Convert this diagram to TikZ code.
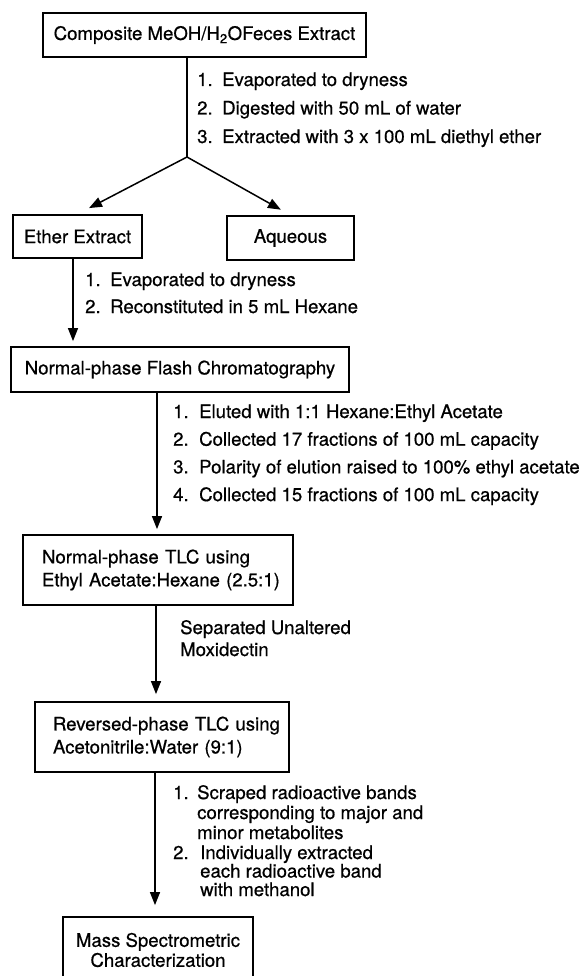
\documentclass[tikz,border=0pt]{standalone}
\usepackage{fontspec}
\setmainfont{TeX Gyre Heros}[FakeBold=0.6]
\usetikzlibrary{arrows.meta}
\newcommand\myfs[1]{\fontsize{18.6}{#1}\selectfont}
\begin{document}
\begin{tikzpicture}[x=1pt,y=-1pt,
  box/.style={draw,line width=1.8pt,rectangle,inner sep=0pt,font=\myfs{23},align=center},
  lbox/.style={box,align=left},
  conn/.style={line width=1.5pt},
  arr/.style={conn,-{Triangle[length=13pt,width=10pt]}},
  lbl/.style={inner sep=0pt,anchor=base west}
]
\useasboundingbox (0,0) rectangle (584,976);
\clip (0,0) rectangle (584,976);
\fill[white] (0,0) rectangle (584,976);

% boxes
\node[box,minimum width=323pt,minimum height=44pt] (comp) at (204.5,35) {Composite MeOH/H\textsubscript{2}OFeces Extract};
\node[box,minimum width=129pt,minimum height=43pt] (ether) at (77.5,236.5) {Ether Extract};
\node[box,minimum width=127pt,minimum height=44pt] (aq) at (290.5,238) {Aqueous};
\node[box,minimum width=338pt,minimum height=45pt] (flash) at (180,369.5) {Normal-phase Flash Chromatography};
\node[lbox,minimum width=270pt,minimum height=70pt,text width=232pt] (tlc) at (158,570) {\mbox{Normal-phase TLC using}\\\mbox{Ethyl Acetate:Hexane (2.5:1)}};
\node[lbox,minimum width=254pt,minimum height=70pt,text width=218pt] (rp) at (162,737) {\mbox{Reversed-phase TLC using}\\\mbox{Acetonitrile:Water (9:1)}};
\node[box,font=\myfs{20},minimum width=190pt,minimum height=66pt] (mass) at (158,950) {Mass Spectrometric\\Characterization};

% step labels
\node[lbl] (s1) at (197,86) {\myfs{28.5}\begin{tabular}[t]{@{}p{25pt}@{}l@{}}1.&Evaporated to dryness\\2.&Digested with 50 mL of water\\3.&Extracted with 3 x 100 mL diethyl ether\end{tabular}};
\node[lbl] (s2) at (85,286) {\myfs{27}\begin{tabular}[t]{@{}p{25pt}@{}l@{}}1.&Evaporated to dryness\\2.&Reconstituted in 5 mL Hexane\end{tabular}};
\node[lbl] (s3) at (173,418) {\myfs{27.7}\begin{tabular}[t]{@{}p{26pt}@{}l@{}}1.&Eluted with 1:1 Hexane:Ethyl Acetate\\2.&Collected 17 fractions of 100 mL capacity\\3.&Polarity of elution raised to 100\% ethyl acetate\\4.&Collected 15 fractions of 100 mL capacity\end{tabular}};
\node[lbl] (s4) at (180,634) {\myfs{22}\begin{tabular}[t]{@{}l@{}}Separated Unaltered\\Moxidectin\end{tabular}};
\node[lbl] (s5a) at (173,799) {\myfs{20}\begin{tabular}[t]{@{}p{24pt}@{}l@{}}1.&Scraped radioactive bands\\&corresponding to major and\\&minor metabolites\end{tabular}};
\node[lbl] (s5b) at (173,859) {\myfs{16.5}\begin{tabular}[t]{@{}p{27pt}@{}l@{}}2.&Individually extracted\\&each radioactive band\\&with methanol\end{tabular}};

% connectors
\coordinate (br) at (187,157);
\coordinate (xa) at (73,0);
\coordinate (xb) at (157,0);
\coordinate (xc) at (156,0);
\coordinate (xd) at (155,0);
\draw[conn] (comp.south -| br) -- (br);
\draw[arr,shorten >=13pt] (br) -- (ether.north);
\draw[arr,shorten >=11pt] (br) -- (aq.north);
\draw[arr,shorten >=5pt] (ether.south -| xa) -- (flash.north -| xa);
\draw[arr,shorten >=5pt] (flash.south -| xb) -- (tlc.north -| xb);
\draw[arr,shorten >=7pt] (tlc.south -| xc) -- (rp.north -| xc);
\draw[arr,shorten >=11pt] (rp.south -| xd) -- (mass.north -| xd);
\end{tikzpicture}
\end{document}
